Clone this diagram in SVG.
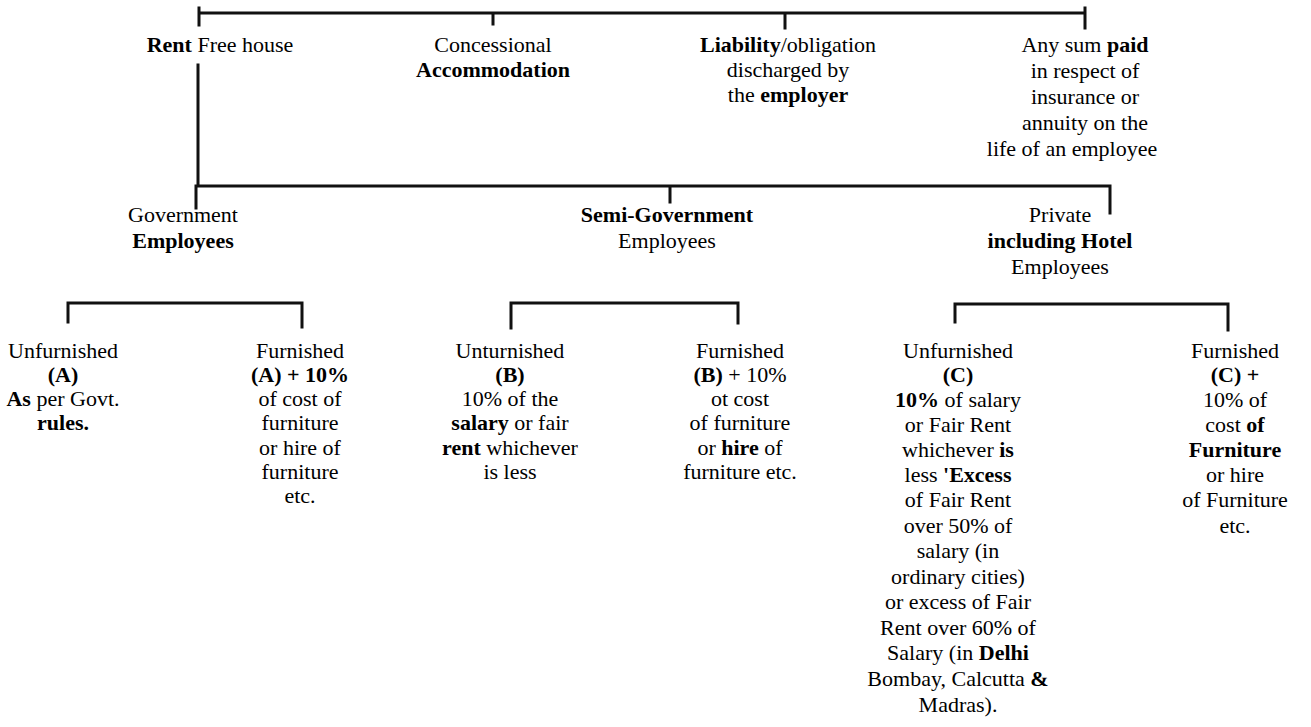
<svg xmlns="http://www.w3.org/2000/svg" width="1311" height="727" viewBox="0 0 1311 727" font-family="Liberation Serif, serif">
<style>
.b{font-weight:bold}
.ln{stroke:#111;stroke-width:3;fill:none;stroke-linecap:square}
</style>
<rect width="1311" height="727" fill="#fff"/>
<g id="connectors" class="ln">
<path d="M199 13H1085M199 8V25M493 13V24M785 13V28M1085 8V28"/>
<path d="M198 65V186M196 186H1110M196 186V208M670 186V202M1110 186V213"/>
<path d="M68 322V303H302V327"/>
<path d="M511 328V303H738V323"/>
<path d="M955 322V304H1228V330"/>
</g>
<g id="rent-free"><text style="font-family:'Liberation Serif',serif !important" font-size="22" text-anchor="middle" x="220" y="52"><tspan class="b">Rent</tspan> Free house</text></g>
<g id="concessional"><text style="font-family:'Liberation Serif',serif !important" font-size="22" text-anchor="middle" x="493" y="52">Concessional</text><text style="font-family:'Liberation Serif',serif !important" font-size="22" text-anchor="middle" x="493" y="77" class="b">Accommodation</text></g>
<g id="liability"><text style="font-family:'Liberation Serif',serif !important" font-size="22" text-anchor="middle" x="788" y="52"><tspan class="b">Liability</tspan>/obligation</text><text style="font-family:'Liberation Serif',serif !important" font-size="22" text-anchor="middle" x="788" y="77">discharged by</text><text style="font-family:'Liberation Serif',serif !important" font-size="22" text-anchor="middle" x="788" y="102">the <tspan class="b">employer</tspan></text></g>
<g id="any-sum"><text style="font-family:'Liberation Serif',serif !important" font-size="22" text-anchor="middle" x="1085" y="52">Any sum <tspan class="b">paid</tspan></text><text style="font-family:'Liberation Serif',serif !important" font-size="22" text-anchor="middle" x="1085" y="78">in respect of</text><text style="font-family:'Liberation Serif',serif !important" font-size="22" text-anchor="middle" x="1085" y="104">insurance or</text><text style="font-family:'Liberation Serif',serif !important" font-size="22" text-anchor="middle" x="1085" y="130">annuity on the</text><text style="font-family:'Liberation Serif',serif !important" font-size="22" text-anchor="middle" x="1072" y="156">life of an employee</text></g>
<g id="government"><text style="font-family:'Liberation Serif',serif !important" font-size="22" text-anchor="middle" x="183" y="222">Government</text><text style="font-family:'Liberation Serif',serif !important" font-size="22" text-anchor="middle" x="183" y="248" class="b">Employees</text></g>
<g id="semi-government"><text style="font-family:'Liberation Serif',serif !important" font-size="22" text-anchor="middle" x="667" y="222" class="b">Semi-Government</text><text style="font-family:'Liberation Serif',serif !important" font-size="22" text-anchor="middle" x="667" y="248">Employees</text></g>
<g id="private"><text style="font-family:'Liberation Serif',serif !important" font-size="22" text-anchor="middle" x="1060" y="222">Private</text><text style="font-family:'Liberation Serif',serif !important" font-size="22" text-anchor="middle" x="1060" y="248" class="b">including Hotel</text><text style="font-family:'Liberation Serif',serif !important" font-size="22" text-anchor="middle" x="1060" y="274">Employees</text></g>
<g id="unfurnished-a"><text style="font-family:'Liberation Serif',serif !important" font-size="22" text-anchor="middle" x="63" y="358">Unfurnished</text><text style="font-family:'Liberation Serif',serif !important" font-size="22" text-anchor="middle" x="63" y="382" class="b">(A)</text><text style="font-family:'Liberation Serif',serif !important" font-size="22" text-anchor="middle" x="63" y="406"><tspan class="b">As</tspan> per Govt.</text><text style="font-family:'Liberation Serif',serif !important" font-size="22" text-anchor="middle" x="63" y="430" class="b">rules.</text></g>
<g id="furnished-a"><text style="font-family:'Liberation Serif',serif !important" font-size="22" text-anchor="middle" x="300" y="358">Furnished</text><text style="font-family:'Liberation Serif',serif !important" font-size="22" text-anchor="middle" x="300" y="382" class="b">(A) + 10%</text><text style="font-family:'Liberation Serif',serif !important" font-size="22" text-anchor="middle" x="300" y="406">of cost of</text><text style="font-family:'Liberation Serif',serif !important" font-size="22" text-anchor="middle" x="300" y="430">furniture</text><text style="font-family:'Liberation Serif',serif !important" font-size="22" text-anchor="middle" x="300" y="455">or hire of</text><text style="font-family:'Liberation Serif',serif !important" font-size="22" text-anchor="middle" x="300" y="479">furniture</text><text style="font-family:'Liberation Serif',serif !important" font-size="22" text-anchor="middle" x="300" y="503">etc.</text></g>
<g id="unfurnished-b"><text style="font-family:'Liberation Serif',serif !important" font-size="22" text-anchor="middle" x="510" y="358">Unturnished</text><text style="font-family:'Liberation Serif',serif !important" font-size="22" text-anchor="middle" x="510" y="382" class="b">(B)</text><text style="font-family:'Liberation Serif',serif !important" font-size="22" text-anchor="middle" x="510" y="406">10% of the</text><text style="font-family:'Liberation Serif',serif !important" font-size="22" text-anchor="middle" x="510" y="430"><tspan class="b">salary</tspan> or fair</text><text style="font-family:'Liberation Serif',serif !important" font-size="22" text-anchor="middle" x="510" y="455"><tspan class="b">rent</tspan> whichever</text><text style="font-family:'Liberation Serif',serif !important" font-size="22" text-anchor="middle" x="510" y="479">is less</text></g>
<g id="furnished-b"><text style="font-family:'Liberation Serif',serif !important" font-size="22" text-anchor="middle" x="740" y="358">Furnished</text><text style="font-family:'Liberation Serif',serif !important" font-size="22" text-anchor="middle" x="740" y="382"><tspan class="b">(B)</tspan> + 10%</text><text style="font-family:'Liberation Serif',serif !important" font-size="22" text-anchor="middle" x="740" y="406">ot cost</text><text style="font-family:'Liberation Serif',serif !important" font-size="22" text-anchor="middle" x="740" y="430">of furniture</text><text style="font-family:'Liberation Serif',serif !important" font-size="22" text-anchor="middle" x="740" y="455">or <tspan class="b">hire</tspan> of</text><text style="font-family:'Liberation Serif',serif !important" font-size="22" text-anchor="middle" x="740" y="479">furniture etc.</text></g>
<g id="unfurnished-c">
<text style="font-family:'Liberation Serif',serif !important" font-size="22" text-anchor="middle" x="958" y="358">Unfurnished</text>
<text style="font-family:'Liberation Serif',serif !important" font-size="22" text-anchor="middle" x="958" y="382" class="b">(C)</text>
<text style="font-family:'Liberation Serif',serif !important" font-size="22" text-anchor="middle" x="958" y="407"><tspan class="b">10%</tspan> of salary</text>
<text style="font-family:'Liberation Serif',serif !important" font-size="22" text-anchor="middle" x="958" y="432">or Fair Rent</text>
<text style="font-family:'Liberation Serif',serif !important" font-size="22" text-anchor="middle" x="958" y="457">whichever <tspan class="b">is</tspan></text>
<text style="font-family:'Liberation Serif',serif !important" font-size="22" text-anchor="middle" x="958" y="482">less <tspan class="b">'Excess</tspan></text>
<text style="font-family:'Liberation Serif',serif !important" font-size="22" text-anchor="middle" x="958" y="507">of Fair Rent</text>
<text style="font-family:'Liberation Serif',serif !important" font-size="22" text-anchor="middle" x="958" y="533">over 50% of</text>
<text style="font-family:'Liberation Serif',serif !important" font-size="22" text-anchor="middle" x="958" y="558">salary (in</text>
<text style="font-family:'Liberation Serif',serif !important" font-size="22" text-anchor="middle" x="958" y="584">ordinary cities)</text>
<text style="font-family:'Liberation Serif',serif !important" font-size="22" text-anchor="middle" x="958" y="609">or excess of Fair</text>
<text style="font-family:'Liberation Serif',serif !important" font-size="22" text-anchor="middle" x="958" y="635">Rent over 60% of</text>
<text style="font-family:'Liberation Serif',serif !important" font-size="22" text-anchor="middle" x="958" y="660">Salary (in <tspan class="b">Delhi</tspan></text>
<text style="font-family:'Liberation Serif',serif !important" font-size="22" text-anchor="middle" x="958" y="686">Bombay, Calcutta <tspan class="b">&amp;</tspan></text>
<text style="font-family:'Liberation Serif',serif !important" font-size="22" text-anchor="middle" x="958" y="712">Madras).</text>
</g>
<g id="furnished-c"><text style="font-family:'Liberation Serif',serif !important" font-size="22" text-anchor="middle" x="1235" y="358">Furnished</text><text style="font-family:'Liberation Serif',serif !important" font-size="22" text-anchor="middle" x="1235" y="382" class="b">(C) +</text><text style="font-family:'Liberation Serif',serif !important" font-size="22" text-anchor="middle" x="1235" y="407">10% of</text><text style="font-family:'Liberation Serif',serif !important" font-size="22" text-anchor="middle" x="1235" y="432">cost <tspan class="b">of</tspan></text><text style="font-family:'Liberation Serif',serif !important" font-size="22" text-anchor="middle" x="1235" y="457" class="b">Furniture</text><text style="font-family:'Liberation Serif',serif !important" font-size="22" text-anchor="middle" x="1235" y="482">or hire</text><text style="font-family:'Liberation Serif',serif !important" font-size="22" text-anchor="middle" x="1235" y="507">of Furniture</text><text style="font-family:'Liberation Serif',serif !important" font-size="22" text-anchor="middle" x="1235" y="533">etc.</text></g>
</svg>
